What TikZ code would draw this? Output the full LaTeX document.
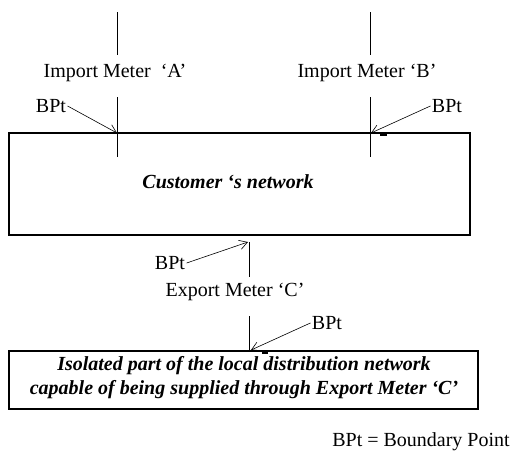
\documentclass[tikz,border=0pt]{standalone}
\usepackage{fontspec}
\setmainfont{Liberation Serif}
\usetikzlibrary{arrows.meta}

\begin{document}
\begin{tikzpicture}[x=0.75pt,y=-0.75pt,font=\fontsize{15}{18}\selectfont,
  netbox/.style={draw,line width=0.9pt,inner sep=0pt},
  boxtext/.style={font=\fontsize{15}{18}\selectfont\bfseries\itshape,align=center,inner sep=0pt},
  lbl/.style={inner sep=1pt},
  meter/.style={line width=0.7pt},
  bpt/.style={line width=0.45pt,-{Straight Barb[length=6pt,width=7pt]}}]
\useasboundingbox (0,0) rectangle (516,454);
\node[netbox,minimum width=345.75pt,minimum height=76.5pt] (cust) at (239.5,184) {};
\node[boxtext] (custlbl) at (228,182) {Customer ‘s network};
\node[netbox,minimum width=351.75pt,minimum height=43.5pt] (isol) at (243.5,380) {};
\node[boxtext] (isollbl) at (244,378) {Isolated part of the local distribution network\\capable of being supplied through Export Meter ‘C’};
\draw[meter] (117,12) -- (117,55);
\draw[meter] (117,97) -- (117,157);
\draw[meter] (370,12) -- (370,55);
\draw[meter] (370,97) -- (370,157);
\draw[meter] (249,242) -- (249,277);
\draw[meter] (249,316) -- (249,351);
\node[lbl] (ma) at (115,73) {Import Meter \ ‘A’};
\node[lbl] (mb) at (367,73) {Import Meter ‘B’};
\node[lbl] (mc) at (235,292) {Export Meter ‘C’};
\coordinate (pa) at (117,133);
\coordinate (pb) at (371,133);
\coordinate (pc) at (248,242);
\coordinate (pd) at (251,350);
\node[lbl] (bpa) at (51,106) {BPt};
\node[lbl] (bpb) at (447,106) {BPt};
\node[lbl] (bpc) at (170,263) {BPt};
\node[lbl] (bpd) at (327,323) {BPt};
\draw[bpt] (bpa.east) -- (pa);
\draw[bpt] (bpb.west) -- (pb);
\draw[bpt] (bpc.east) -- (pc);
\draw[bpt] (bpd.west) -- (pd);
\draw[line width=1.5pt] (380,135) -- (387,135);
\draw[line width=1.5pt] (262,352.5) -- (268,352.5);
\node[lbl] (legend) at (421,442) {BPt = Boundary Point};
\end{tikzpicture}
\end{document}
